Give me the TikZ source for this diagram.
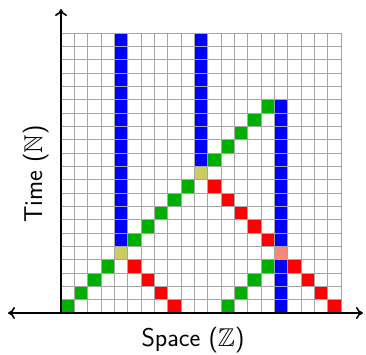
\documentclass[tikz,border=0pt]{standalone}
\usepackage{amssymb}
\usepackage{fontspec}
\usetikzlibrary{arrows.meta}
\definecolor{cgreen}{RGB}{0,176,0}
\definecolor{cred}{RGB}{255,0,0}
\definecolor{cblue}{RGB}{0,0,255}
\definecolor{colive}{RGB}{204,204,102}
\definecolor{csalmon}{RGB}{250,136,118}
\definecolor{cgrid}{RGB}{165,165,165}
\tikzset{
  gridline/.style={draw=cgrid, line width=0.9pt},
  axisline/.style={draw=black, line width=1.6pt, >={Computer Modern Rightarrow[length=7pt,width=12pt]}},
  axislabel/.style={font=\sffamily\fontsize{25.7}{30}\selectfont, inner sep=0pt},
}
\newcommand{\cellfill}[3]{\fill[#3] (#1,#2) rectangle ++(1,1);}
\begin{document}
\begin{tikzpicture}[x=1pt,y=1pt]
\useasboundingbox (0,0) rectangle (366,354);
\begin{scope}[shift={(61,41)}, x=13.333pt, y=13.333pt]
  % green particles
  \foreach \c/\r in {0/0,1/1,2/2,3/3,5/5,6/6,7/7,8/8,9/9,11/11,12/12,13/13,14/14,15/15,12/0,13/1,14/2,15/3}
    {\cellfill{\c}{\r}{cgreen}}
  % red particles
  \foreach \c/\r in {8/0,7/1,6/2,5/3,20/0,19/1,18/2,17/3,15/5,14/6,13/7,12/8,11/9}
    {\cellfill{\c}{\r}{cred}}
  % blue walls
  \foreach \r in {5,...,20} {\cellfill{4}{\r}{cblue}}
  \foreach \r in {11,...,20} {\cellfill{10}{\r}{cblue}}
  \foreach \r in {0,1,2,3,5,6,7,8,9,10,11,12,13,14,15} {\cellfill{16}{\r}{cblue}}
  % collisions
  \cellfill{4}{4}{colive}
  \cellfill{10}{10}{colive}
  \cellfill{16}{4}{csalmon}
  % grid
  \foreach \i in {0,...,21} {
    \draw[gridline] (\i,0) -- (\i,21);
    \draw[gridline] (0,\i) -- (21,\i);
  }
  \coordinate (gridorigin) at (0,0);
\end{scope}
\coordinate (xl) at (8,41);
\coordinate (xr) at (363,41);
\coordinate (yt) at (61,345);
\draw[axisline,<->] (xl) -- (xr);
\draw[axisline,->] (gridorigin) -- (yt);
\node[axislabel, anchor=base] (spacelabel) at (193,8) {Space ($\mathbb{Z}$)};
\node[axislabel, anchor=base, rotate=90] (timelabel) at (42,180) {Time ($\mathbb{N}$)};
\end{tikzpicture}
\end{document}
